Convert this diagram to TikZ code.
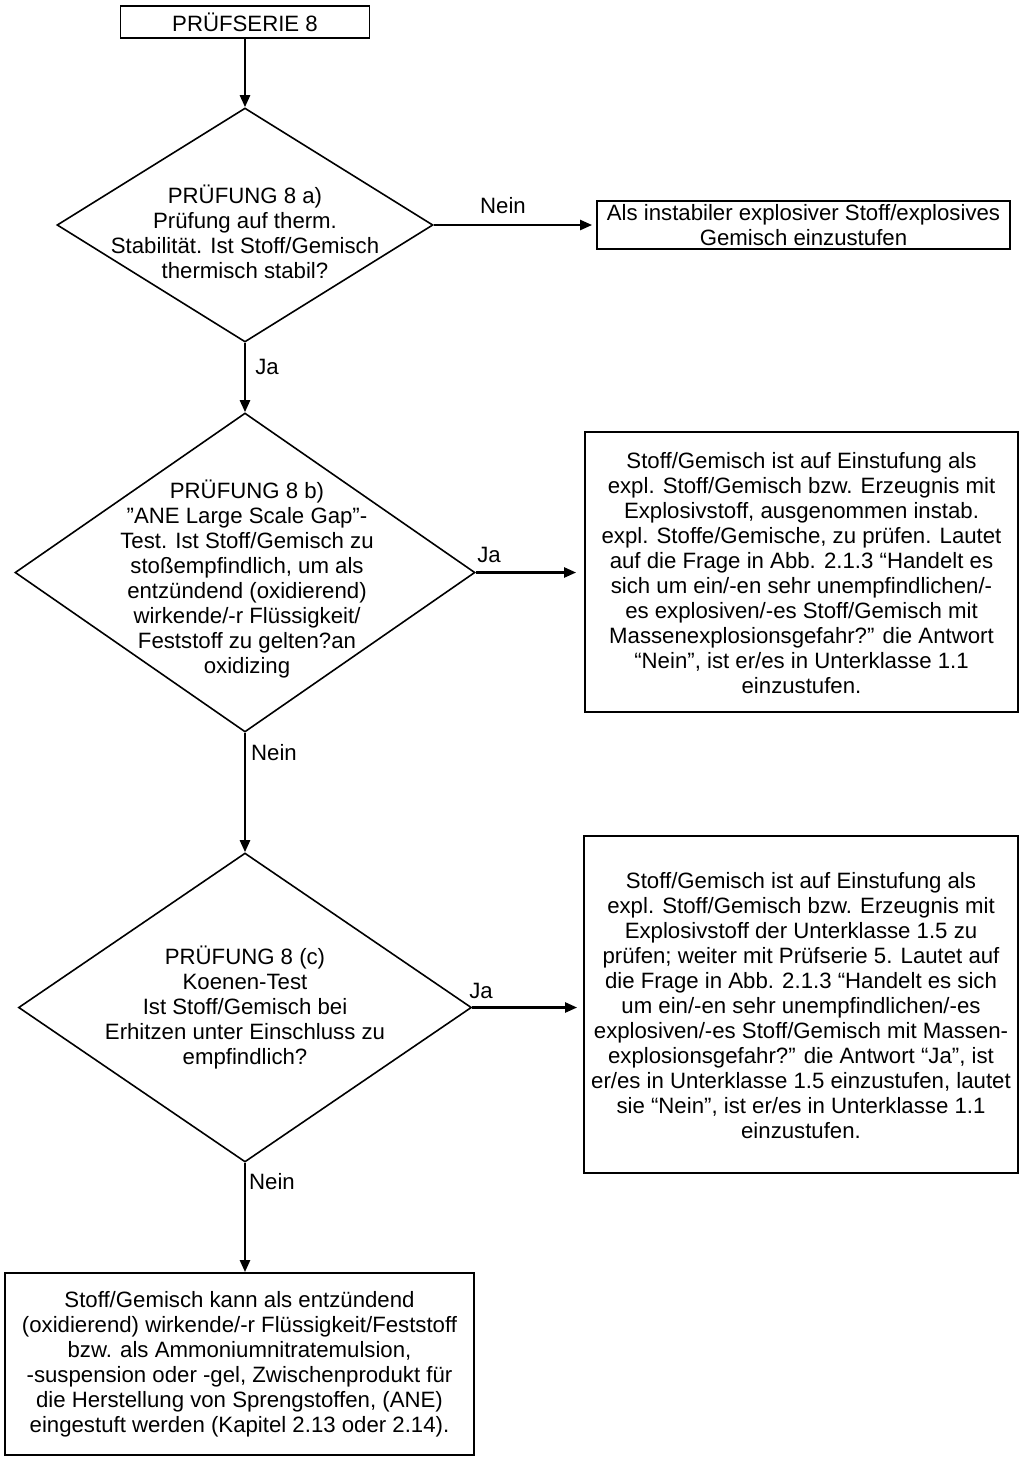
\documentclass[tikz,border=0pt]{standalone}
\usepackage{fontspec}
\setmainfont{Liberation Sans}
\usetikzlibrary{shapes.geometric,arrows.meta}
\begin{document}
\begin{tikzpicture}[x=0.5pt,y=-0.5pt,
  txt/.style={align=center,font=\fontsize{11.1}{12.5}\selectfont,inner sep=0pt},
  boxnode/.style={draw,line width=0.9pt,inner sep=0pt},
  dia/.style={draw,diamond,line width=0.8pt,inner sep=0pt},
  conn/.style={line width=1.2pt,-{Triangle[length=6pt,width=5pt]}},
  lbl/.style={font=\fontsize{11.1}{12.5}\selectfont,inner sep=0pt}]
\useasboundingbox (0,0) rectangle (1023,1464);

% boxes
\node[boxnode,minimum width=124.5pt,minimum height=16pt] (start) at (245,22) {};
\node[txt] (startT) at (start) {PRÜFSERIE 8};

\node[boxnode,minimum width=206.5pt,minimum height=24pt] (bN) at (803.5,225) {};
\node[txt] (bNT) at (bN) {Als instabiler explosiver Stoff/explosives\\Gemisch einzustufen};

\node[boxnode,minimum width=216.5pt,minimum height=140pt] (bB) at (801.5,572) {};
\node[txt] (bBT) at (801.5,573) {Stoff/Gemisch ist auf Einstufung als\\expl. Stoff/Gemisch bzw. Erzeugnis mit\\Explosivstoff, ausgenommen instab.\\expl. Stoffe/Gemische, zu prüfen. Lautet\\auf die Frage in Abb. 2.1.3 “Handelt es\\sich um ein/-en sehr unempfindlichen/-\\es explosiven/-es Stoff/Gemisch mit\\Massenexplosionsgefahr?” die Antwort\\“Nein”, ist er/es in Unterklasse 1.1\\einzustufen.};

\node[boxnode,minimum width=217pt,minimum height=168.5pt] (bC) at (801,1004.5) {};
\node[txt] (bCT) at (801,1006) {Stoff/Gemisch ist auf Einstufung als\\expl. Stoff/Gemisch bzw. Erzeugnis mit\\Explosivstoff der Unterklasse 1.5 zu\\prüfen; weiter mit Prüfserie 5. Lautet auf\\die Frage in Abb. 2.1.3 “Handelt es sich\\um ein/-en sehr unempfindlichen/-es\\explosiven/-es Stoff/Gemisch mit Massen-\\explosionsgefahr?” die Antwort “Ja”, ist\\er/es in Unterklasse 1.5 einzustufen, lautet\\sie “Nein”, ist er/es in Unterklasse 1.1\\einzustufen.};

\node[boxnode,minimum width=234.5pt,minimum height=91pt] (bD) at (239.5,1364) {};
\node[txt] (bDT) at (239.5,1364) {Stoff/Gemisch kann als entzündend\\(oxidierend) wirkende/-r Flüssigkeit/Feststoff\\bzw. als Ammoniumnitratemulsion,\\-suspension oder -gel, Zwischenprodukt für\\die Herstellung von Sprengstoffen, (ANE)\\eingestuft werden (Kapitel 2.13 oder 2.14).};

% diamonds
\node[dia,minimum width=188pt,minimum height=117pt] (dA) at (245,225) {};
\node[txt] (dAT) at (245,232) {PRÜFUNG 8 a)\\Prüfung auf therm.\\Stabilität. Ist Stoff/Gemisch\\thermisch stabil?};

\node[dia,minimum width=230pt,minimum height=159.5pt] (dB) at (245,572.5) {};
\node[txt] (dBT) at (247,579) {PRÜFUNG 8 b)\\”ANE Large Scale Gap”-\\Test. Ist Stoff/Gemisch zu\\stoßempfindlich, um als\\entzündend (oxidierend)\\wirkende/-r Flüssigkeit/\\Feststoff zu gelten?an\\oxidizing};

\node[dia,minimum width=226.5pt,minimum height=154.5pt] (dC) at (245,1007.5) {};
\node[txt] (dCT) at (245,1007) {PRÜFUNG 8 (c)\\Koenen-Test\\Ist Stoff/Gemisch bei\\Erhitzen unter Einschluss zu\\empfindlich?};

% connectors
\draw[conn] (start.south) -- (dA.north);
\draw[conn,shorten >=2pt] (dA.east) -- (dA.east -| bN.west);
\draw[conn] (dA.south) -- (dB.north);
\draw[conn,shorten >=4pt] (dB.east) -- (dB.east -| bB.west);
\draw[conn] (dB.south) -- (dC.north);
\draw[conn,shorten >=3pt] (dC.east) -- (dC.east -| bC.west);
\draw[conn] (dC.south) -- (dC.south |- bD.north);

% labels
\node[lbl] (lA) at (503,206) {Nein};
\node[lbl] (lAJ) at (267,367) {Ja};
\node[lbl] (lBJ) at (489,555) {Ja};
\node[lbl] (lBN) at (274,753) {Nein};
\node[lbl] (lCJ) at (481,991) {Ja};
\node[lbl] (lCN) at (272,1182) {Nein};
\end{tikzpicture}
\end{document}
